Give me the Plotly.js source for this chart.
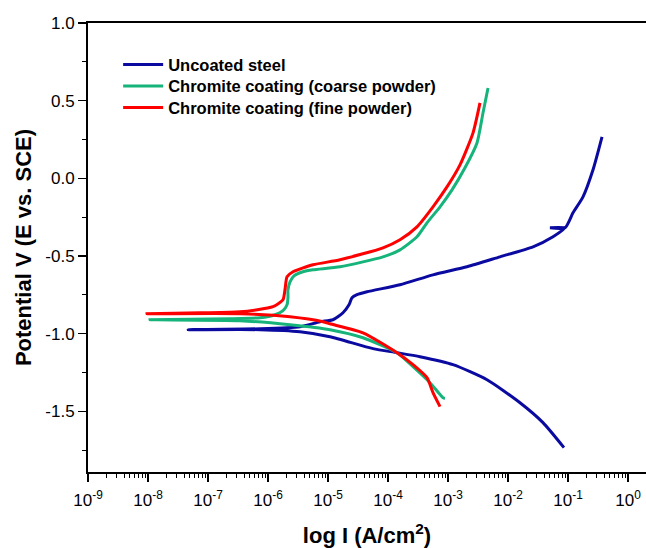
<!DOCTYPE html>
<html>
<head>
<meta charset="utf-8">
<script src="https://cdn.plot.ly/plotly-3.0.1.min.js"></script>
<style>html,body{margin:0;padding:0;background:#fff;}#chart{width:646px;height:548px;}</style>
</head>
<body>
<div id="chart"></div>
<script>
// Series names
var seriesNames = ['Uncoated steel', 'Chromite coating (coarse powder)', 'Chromite coating (fine powder)'];

// Uncoated steel: cathodic branch (from Ecorr downwards) — log10 I and E
var steelCathLogI = [-7.333, -6.133, -5.467, -4.967, -4.25, -3.85, -3.467, -2.917, -2.35, -1.8, -1.417, -1.067];
var steelCathE    = [-0.974, -0.974, -0.987, -1.019, -1.096, -1.122, -1.148, -1.199, -1.296, -1.444, -1.572, -1.733];
// Uncoated steel: anodic branch (from Ecorr upwards)
var steelAnodLogI = [-7.333, -6.133, -5.467, -5.133, -4.917, -4.75, -4.65, -4.6, -4.517, -4.35, -3.8, -3.25, -2.683, -2.133, -1.583, -1.25, -1.05, -1.3, -1.05, -0.917, -0.75, -0.583, -0.433];
var steelAnodE    = [-0.974, -0.968, -0.955, -0.923, -0.910, -0.865, -0.814, -0.768, -0.749, -0.730, -0.685, -0.621, -0.569, -0.505, -0.441, -0.376, -0.318, -0.318, -0.318, -0.222, -0.119, 0.055, 0.267];

// Coarse powder coating
var coarseCathLogI = [-7.967, -6.467, -5.633, -4.967, -4.417, -3.85, -3.583, -3.3, -3.083, -3.05];
var coarseCathE    = [-0.910, -0.916, -0.942, -0.974, -1.026, -1.122, -1.212, -1.315, -1.412, -1.415];
var coarseAnodLogI = [-7.967, -6.633, -6.133, -5.883, -5.75, -5.683, -5.667, -5.667, -5.633, -5.567, -5.417, -5.25, -4.8, -4.083, -3.8, -3.517, -3.35, -3.133, -2.933, -2.717, -2.517, -2.417, -2.333];
var coarseAnodE    = [-0.910, -0.904, -0.897, -0.878, -0.852, -0.814, -0.768, -0.717, -0.666, -0.627, -0.601, -0.588, -0.569, -0.505, -0.460, -0.376, -0.286, -0.183, -0.074, 0.068, 0.228, 0.421, 0.582];

// Fine powder coating
var fineCathLogI = [-8.017, -6.467, -5.633, -5.083, -4.967, -4.417, -3.85, -3.583, -3.35, -3.25, -3.133];
var fineCathE    = [-0.871, -0.871, -0.891, -0.923, -0.936, -0.994, -1.122, -1.199, -1.283, -1.379, -1.469];
var fineAnodLogI = [-8.017, -7.133, -6.467, -5.917, -5.75, -5.717, -5.683, -5.583, -5.25, -4.8, -4.083, -3.8, -3.517, -3.25, -3.017, -2.8, -2.583, -2.467];
var fineAnodE    = [-0.871, -0.865, -0.859, -0.826, -0.781, -0.717, -0.633, -0.601, -0.556, -0.524, -0.447, -0.395, -0.312, -0.183, -0.055, 0.087, 0.293, 0.486];

// Axis ticks
var xTickVals = [1e-9, 1e-8, 1e-7, 1e-6, 1e-5, 1e-4, 1e-3, 1e-2, 1e-1, 1];
var xTickText = ['10<sup>-9</sup>', '10<sup>-8</sup>', '10<sup>-7</sup>', '10<sup>-6</sup>', '10<sup>-5</sup>', '10<sup>-4</sup>', '10<sup>-3</sup>', '10<sup>-2</sup>', '10<sup>-1</sup>', '10<sup>0</sup>'];
var yTickVals = [1.0, 0.5, 0.0, -0.5, -1.0, -1.5];
var yTickText = ['1.0', '0.5', '0.0', '-0.5', '-1.0', '-1.5'];

var colors = ['#0A0AA0', '#16B47A', '#FF0000'];

function joinCurve(cLog, cE, aLog, aE) {
  var xs = [], ys = [];
  for (var i = cLog.length - 1; i >= 0; i--) { xs.push(Math.pow(10, cLog[i])); ys.push(cE[i]); }
  for (var j = 1; j < aLog.length; j++) { xs.push(Math.pow(10, aLog[j])); ys.push(aE[j]); }
  return {x: xs, y: ys};
}

var curves = [
  joinCurve(steelCathLogI, steelCathE, steelAnodLogI, steelAnodE),
  joinCurve(coarseCathLogI, coarseCathE, coarseAnodLogI, coarseAnodE),
  joinCurve(fineCathLogI, fineCathE, fineAnodLogI, fineAnodE)
];

var legendIds = ['legend', 'legend2', 'legend3'];

var traces = curves.map(function (c, k) {
  return {
    x: c.x, y: c.y, type: 'scatter', mode: 'lines', name: seriesNames[k],
    legend: legendIds[k],
    line: {color: colors[k], width: 3, shape: 'spline', smoothing: 0.6}
  };
});

var FONT = 'Liberation Sans, Arial, sans-serif';

function legendBox(yPos) {
  return {
    x: 0.054, y: yPos, xanchor: 'left', yanchor: 'top',
    bgcolor: 'rgba(0,0,0,0)', borderwidth: 0,
    font: {family: FONT, size: 16.5, color: '#000', weight: 'bold'},
    itemwidth: 40
  };
}

var layout = {
  width: 646, height: 548,
  margin: {l: 88, r: 0, t: 23, b: 76},
  paper_bgcolor: '#fff', plot_bgcolor: '#fff',
  showlegend: true,
  legend: legendBox(0.946),
  legend2: legendBox(0.898),
  legend3: legendBox(0.850),
  xaxis: {
    type: 'log', range: [-9, 0.3],
    showline: true, linecolor: '#000', linewidth: 2, mirror: true,
    showgrid: false, zeroline: false,
    ticks: 'outside', ticklen: 8, tickwidth: 1.5, tickcolor: '#000',
    tickmode: 'array', tickvals: xTickVals, ticktext: xTickText,
    ticklabelstandoff: 4,
    tickfont: {family: FONT, size: 17, color: '#000'},
    minor: {ticks: 'outside', ticklen: 4, tickwidth: 1, tickcolor: '#000', dtick: 'D1', showgrid: false},
    title: {text: 'log I (A/cm<sup>2</sup>)', font: {family: FONT, size: 22, color: '#000', weight: 'bold'}, standoff: 18}
  },
  yaxis: {
    range: [-1.89, 1.0],
    showline: true, linecolor: '#000', linewidth: 2, mirror: false,
    showgrid: false, zeroline: false,
    ticks: 'outside', ticklen: 8, tickwidth: 1.5, tickcolor: '#000',
    tickmode: 'array', tickvals: yTickVals, ticktext: yTickText,
    tickfont: {family: FONT, size: 17, color: '#000'},
    minor: {ticks: 'outside', ticklen: 4, tickwidth: 1, tickcolor: '#000', dtick: 0.25, tick0: 0, showgrid: false},
    title: {text: 'Potential V (E vs. SCE)', font: {family: FONT, size: 22, color: '#000', weight: 'bold'}, standoff: 8}
  }
};

Plotly.newPlot('chart', traces, layout, {displayModeBar: false, staticPlot: true});
</script>
</body>
</html>
